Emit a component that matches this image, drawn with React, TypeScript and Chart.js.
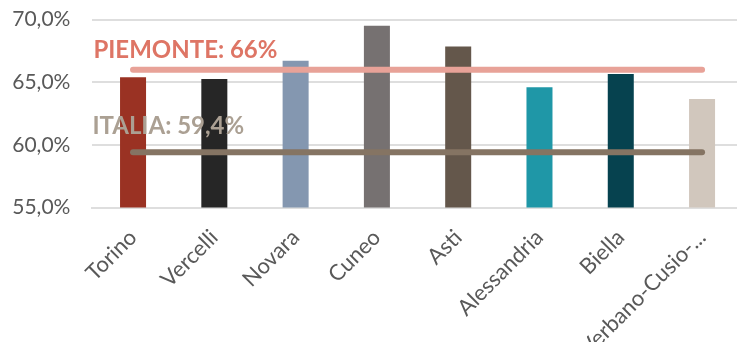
import React, { useEffect, useRef } from "react";
import { Chart, registerables } from "chart.js";

Chart.register(...registerables);

const categories = ["Torino", "Vercelli", "Novara", "Cuneo", "Asti", "Alessandria", "Biella", "Verbano-Cusio-..."];
const provinceValues = [65.4, 65.25, 66.7, 69.5, 67.85, 64.6, 65.65, 63.65];
const barColors = ["#9A3223", "#262626", "#8497B0", "#767171", "#64574B", "#1F97A7", "#06424F", "#D1C7BD"];
const piemonteValue = 66;
const italiaValue = 59.4;
const piemonteLabel = "PIEMONTE: 66%";
const italiaLabel = "ITALIA: 59,4%";
const yTicks = [55, 60, 65, 70];

const FONT = "Lato, 'Open Sans', sans-serif";

const refLabels = {
  id: "refLabels",
  afterDatasetsDraw(chart: any) {
    const { ctx, chartArea, scales } = chart;
    const y = scales.y;
    ctx.save();
    ctx.font = `bold 24px ${FONT}`;
    ctx.textAlign = "left";
    ctx.textBaseline = "alphabetic";
    ctx.fillStyle = "#DE7565";
    ctx.fillText(piemonteLabel, chartArea.left + 1, y.getPixelForValue(piemonteValue) - 12);
    ctx.fillStyle = "#ABA093";
    ctx.fillText(italiaLabel, chartArea.left, y.getPixelForValue(italiaValue) - 18);
    ctx.restore();
  },
};

export default function App() {
  const ref = useRef<HTMLCanvasElement>(null);
  useEffect(() => {
    if (!ref.current) return;
    const chart = new Chart(ref.current, {
      type: "bar",
      data: {
        labels: categories,
        datasets: [
          {
            type: "line",
            data: categories.map(() => piemonteValue),
            borderColor: "#E8A298",
            borderWidth: 6,
            borderCapStyle: "round",
            pointRadius: 0,
            order: 0,
          } as any,
          {
            type: "line",
            data: categories.map(() => italiaValue),
            borderColor: "#857463",
            borderWidth: 6,
            borderCapStyle: "round",
            pointRadius: 0,
            order: 0,
          } as any,
          {
            type: "bar",
            data: provinceValues,
            backgroundColor: barColors,
            barPercentage: 0.32,
            categoryPercentage: 1,
            order: 1,
          },
        ],
      },
      options: {
        responsive: false,
        animation: false,
        layout: { padding: { top: 19.5, right: 3.3, left: 0, bottom: 0 } },
        plugins: { legend: { display: false }, tooltip: { enabled: false } },
        scales: {
          x: {
            grid: { display: false },
            border: { display: true, color: "#DEDEDE", width: 2 },
            ticks: {
              color: "#595959",
              font: { family: FONT, size: 22 },
              maxRotation: 45,
              minRotation: 45,
              autoSkip: false,
              padding: 9,
              labelOffset: 0,
            },
            afterFit: (s: any) => {
              s.height = 134.5;
              s.paddingLeft = 0;
              s.paddingRight = 0;
            },
          },
          y: {
            min: 55,
            max: 70,
            grid: { color: "#DEDEDE", lineWidth: 2, drawTicks: false },
            border: { display: false },
            afterBuildTicks: (s: any) => {
              s.ticks = yTicks.map((v) => ({ value: v }));
            },
            ticks: {
              color: "#595959",
              font: { family: FONT, size: 21 },
              padding: 22,
              callback: (v: any) => Number(v).toFixed(1).replace(".", ",") + "%",
            },
            afterFit: (s: any) => {
              s.width = 92.4;
              s.paddingTop = 0;
              s.paddingBottom = 0;
            },
          },
        },
      },
      plugins: [refLabels],
    });
    return () => chart.destroy();
  }, []);
  return (
    <div style={{ position: "absolute", left: 0, top: 0, width: 737, height: 342, overflow: "hidden", background: "#fff" }}>
      <canvas ref={ref} width={746} height={342} style={{ width: 746, height: 342, display: "block" }} />
    </div>
  );
}
